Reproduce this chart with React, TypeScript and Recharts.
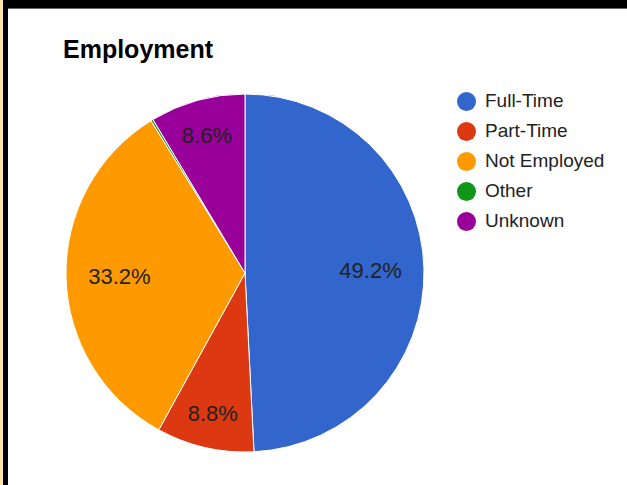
import React from "react";
import { PieChart, Pie, Cell, Legend } from "recharts";

const categories = ["Full-Time", "Part-Time", "Not Employed", "Other", "Unknown"];
const shares = [49.2, 8.8, 33.2, 0.2, 8.6];
const colors = ["#3366cc", "#dc3912", "#ff9900", "#109618", "#990099"];
const title = "Employment";

const data = categories.map((name, i) => ({ name, value: shares[i] }));

const FONT = "'Liberation Sans', Arial, sans-serif";
const RAD = Math.PI / 180;
const LABEL_SIZE = 22;

const renderLabel = (props: any) => {
  const { cx, cy, midAngle, outerRadius, value } = props;
  if (value < 2) return null;
  const text = `${Number(value).toFixed(1)}%`;
  const w = text.length * 0.567 * LABEL_SIZE;
  const h = 0.72 * LABEL_SIZE;
  const dx = Math.cos(-midAngle * RAD);
  const dy = Math.sin(-midAngle * RAD);
  const far = outerRadius * 0.877;
  const r = far - (Math.abs(dx) * w) / 2 - (Math.abs(dy) * h) / 2;
  const x = cx + r * dx;
  const y = cy + r * dy;
  return (
    <text
      x={x}
      y={y + h / 2}
      textAnchor="middle"
      fill="#222"
      fontFamily={FONT}
      fontSize={LABEL_SIZE}
    >
      {text}
    </text>
  );
};

const renderLegend = (props: any) => {
  const payload = [...(props.payload || [])].sort(
    (a: any, b: any) => categories.indexOf(a.value) - categories.indexOf(b.value)
  );
  return (
    <div style={{ fontFamily: FONT }}>
      {payload.map((p: any, i: number) => (
        <div
          key={i}
          style={{ height: 30, display: "flex", alignItems: "center" }}
        >
          <span
            style={{
              display: "inline-block",
              width: 19,
              height: 19,
              borderRadius: "50%",
              background: p.color,
              marginRight: 9,
            }}
          />
          <span style={{ fontSize: 19, color: "#222" }}>{p.value}</span>
        </div>
      ))}
    </div>
  );
};

export default function App() {
  return (
    <div
      style={{
        position: "absolute",
        left: 0,
        top: 0,
        width: 627,
        height: 485,
        background: "#fff",
        overflow: "hidden",
      }}
    >
      <div style={{ position: "absolute", left: 0, top: 0, width: 3, height: 485, background: "#fde3a7" }} />
      <div style={{ position: "absolute", left: 3, top: 0, width: 5, height: 485, background: "#000" }} />
      <div style={{ position: "absolute", left: 3, top: 0, width: 624, height: 8, background: "#000" }} />
      <div style={{ position: "absolute", left: 8, top: 8, width: 619, height: 1, background: "#666" }} />
      <svg
        width={627}
        height={80}
        style={{ position: "absolute", left: 0, top: 0 }}
      >
        <text x={63} y={58} fontFamily={FONT} fontWeight="bold" fontSize={25} fill="#000">
          {title}
        </text>
      </svg>
      <div style={{ position: "absolute", left: 0, top: 0 }}>
        <PieChart width={627} height={485} margin={{ top: 0, right: 0, bottom: 0, left: 0 }}>
          <Pie
            data={data}
            dataKey="value"
            nameKey="name"
            cx={245}
            cy={273}
            outerRadius={179}
            startAngle={90}
            endAngle={-270}
            stroke="#fff"
            strokeWidth={1}
            label={renderLabel}
            labelLine={false}
            isAnimationActive={false}
          >
            {data.map((d, i) => (
              <Cell key={d.name} fill={colors[i]} />
            ))}
          </Pie>
          <Legend
            layout="vertical"
            verticalAlign="top"
            align="right"
            content={renderLegend}
            wrapperStyle={{ left: 457, top: 86, width: 170, right: "auto" }}
          />
        </PieChart>
      </div>
    </div>
  );
}
